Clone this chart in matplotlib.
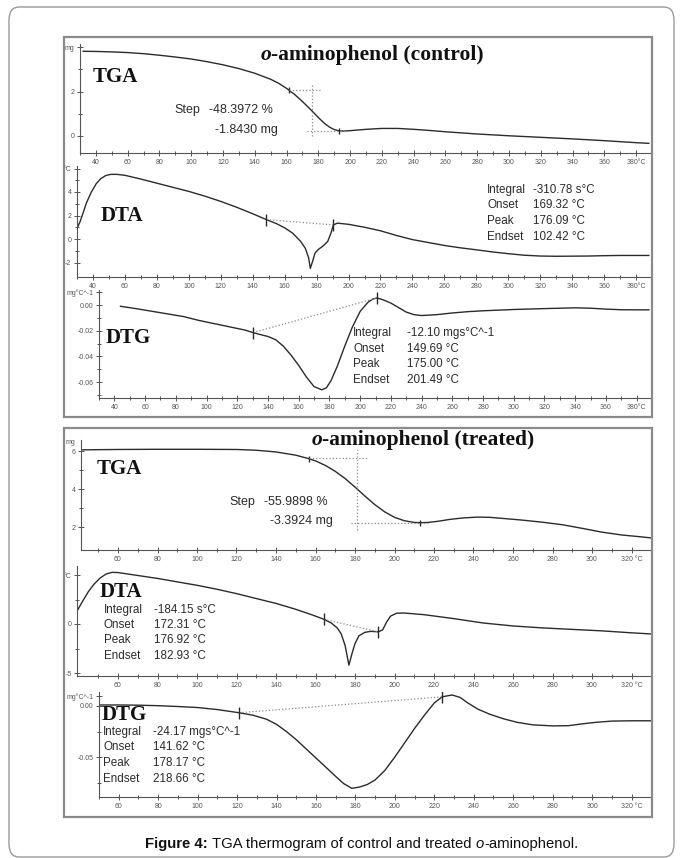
import numpy as np
import matplotlib
matplotlib.use("Agg")
import matplotlib.pyplot as plt
from matplotlib.patches import Rectangle, FancyBboxPatch

# ---------------------------------------------------------------
# o-aminophenol, control sample
# ---------------------------------------------------------------
ctl_tga_T = [32, 40, 50, 60, 70, 80, 90, 100, 110, 120, 130, 140, 150, 155, 160,
             165, 170, 175, 178, 181, 184, 187, 190, 193, 196, 200, 210, 220, 230,
             240, 250, 260, 280, 300, 320, 340, 360, 380, 388]
ctl_tga_mg = [3.808, 3.80, 3.78, 3.75, 3.70, 3.63, 3.55, 3.46, 3.34, 3.20, 3.03, 2.82,
              2.55, 2.37, 2.14, 1.87, 1.55, 1.20, 0.98, 0.76, 0.56, 0.40, 0.29, 0.23,
              0.22, 0.24, 0.30, 0.34, 0.34, 0.30, 0.25, 0.19, 0.09, 0.01, -0.06, -0.13,
              -0.21, -0.30, -0.33]
ctl_step_mg = 1.8430
ctl_step_pct = 48.3972
ctl_step_top = 2.07
ctl_step_T = [161.6, 176.0, 193.0]   # upper limit, inflection, lower limit

ctl_dta_T = [30, 32, 34, 36, 39, 42, 45, 48, 51, 55, 60, 70, 80, 90, 100, 110, 120,
             130, 140, 148.6, 155, 160, 165, 170, 173, 175, 176.09, 177.5, 179, 181,
             184, 187, 189, 190.5, 193, 200, 210, 220, 230, 240, 250, 260, 270, 280,
             290, 300, 310, 320, 330, 340, 350, 360, 370, 380, 388]
ctl_dta_val = [0.9, 1.5, 2.3, 3.1, 4.0, 4.7, 5.15, 5.4, 5.5, 5.5, 5.42, 5.1, 4.75, 4.4,
               4.05, 3.65, 3.2, 2.7, 2.15, 1.65, 1.3, 0.95, 0.5, -0.2, -0.8, -1.6, -2.5,
               -1.9, -1.2, -0.9, -0.6, -0.2, 0.5, 1.2, 1.35, 1.25, 1.0, 0.7, 0.3, -0.05,
               -0.3, -0.55, -0.75, -0.92, -1.1, -1.25, -1.38, -1.45, -1.47, -1.46, -1.45,
               -1.42, -1.40, -1.40, -1.40]
ctl_dta_lim = [148.6, 190.5]
ctl_dta_info = [("Integral", "-310.78 s°C"), ("Onset", "169.32 °C"),
                ("Peak", "176.09 °C"), ("Endset", "102.42 °C")]

ctl_dtg_T = [44, 55, 65, 75, 85, 95, 105, 115, 125, 130.3, 135, 140, 145, 150, 155, 160,
             165, 170, 175, 178, 181, 185, 190, 195, 200, 205, 208, 211, 215, 220, 225,
             230, 235, 240, 250, 260, 270, 280, 300, 320, 340, 350, 360, 370, 388]
ctl_dtg_val = [-0.001, -0.003, -0.005, -0.007, -0.009, -0.012, -0.0145, -0.017, -0.0195,
               -0.0215, -0.023, -0.0245, -0.027, -0.032, -0.039, -0.047, -0.056, -0.0635,
               -0.066, -0.0645, -0.059, -0.048, -0.032, -0.017, -0.005, 0.002, 0.0045,
               0.0055, 0.004, 0.0015, -0.002, -0.0055, -0.0075, -0.0082, -0.0075,
               -0.0062, -0.0052, -0.0045, -0.0035, -0.0028, -0.0022, -0.0025, -0.0032,
               -0.0037, -0.0038]
ctl_dtg_lim = [130.3, 211.0]
ctl_dtg_info = [("Integral", "-12.10 mgs°C^-1"), ("Onset", "149.69 °C"),
                ("Peak", "175.00 °C"), ("Endset", "201.49 °C")]

# ---------------------------------------------------------------
# o-aminophenol, treated sample
# ---------------------------------------------------------------
trt_tga_T = [41.3, 50, 60, 80, 100, 120, 130, 140, 150, 156.5, 160, 165, 170, 175, 180,
             185, 190, 195, 200, 205, 210, 213, 217, 222, 228, 235, 242, 248, 255, 265,
             275, 285, 295, 305, 315, 325, 330.4]
trt_tga_mg = [6.059, 6.07, 6.08, 6.09, 6.09, 6.08, 6.04, 5.95, 5.78, 5.60, 5.48, 5.24,
              4.93, 4.55, 4.10, 3.63, 3.18, 2.80, 2.51, 2.33, 2.24, 2.228, 2.24, 2.30,
              2.40, 2.48, 2.52, 2.51, 2.45, 2.36, 2.25, 2.12, 1.93, 1.73, 1.58, 1.48, 1.42]
trt_step_mg = 3.3924
trt_step_pct = 55.9898
trt_step_top = 5.62
trt_step_T = [156.5, 181.0, 213.0]

trt_dta_T = [39.2, 42, 45, 48, 51, 54, 57, 60, 70, 80, 90, 100, 110, 120, 130, 140, 150,
             158, 164.3, 168, 171, 173, 175, 176.92, 178.5, 180, 182, 185, 188, 191.8,
             194, 196, 198, 201, 205, 215, 230, 245, 260, 275, 290, 305, 320, 330.4]
trt_dta_val = [1.3, 2.3, 3.3, 4.1, 4.7, 5.1, 5.27, 5.25, 4.95, 4.65, 4.3, 3.95, 3.55, 3.1,
               2.6, 2.1, 1.5, 0.95, 0.48, 0.1, -0.4, -1.0, -2.2, -4.2, -3.0, -2.0, -1.2,
               -0.85, -0.75, -0.8, -0.6, 0.2, 0.8, 1.1, 1.12, 0.95, 0.55, 0.1, -0.2, -0.4,
               -0.55, -0.7, -0.9, -1.02]
trt_dta_lim = [164.3, 191.8]
trt_dta_info = [("Integral", "-184.15 s°C"), ("Onset", "172.31 °C"),
                ("Peak", "176.92 °C"), ("Endset", "182.93 °C")]

trt_dtg_T = [50.4, 60, 70, 80, 90, 100, 110, 121, 128, 135, 140, 145, 150, 155, 160, 165,
             170, 174, 178.17, 182, 186, 190, 195, 200, 205, 210, 215, 220, 224, 229, 233,
             237, 242, 248, 255, 262, 270, 280, 288, 295, 302, 310, 320, 330.4]
trt_dtg_val = [0.001, 0.001, 0.0008, 0.0003, -0.0005, -0.0015, -0.0035, -0.0066, -0.009,
               -0.013, -0.018, -0.025, -0.033, -0.042, -0.051, -0.06, -0.069, -0.076,
               -0.0807, -0.0795, -0.077, -0.0725, -0.063, -0.05, -0.036, -0.022, -0.009,
               0.003, 0.009, 0.0108, 0.0085, 0.003, -0.003, -0.008, -0.0125, -0.016,
               -0.0185, -0.0195, -0.0193, -0.0175, -0.016, -0.0148, -0.0145, -0.0145]
trt_dtg_lim = [121.0, 224.0]
trt_dtg_info = [("Integral", "-24.17 mgs°C^-1"), ("Onset", "141.62 °C"),
                ("Peak", "178.17 °C"), ("Endset", "218.66 °C")]

# ---------------------------------------------------------------
W, H = 683, 858
fig = plt.figure(figsize=(W / 100, H / 100), dpi=100)
fig.patch.set_facecolor("white")

SANS = "Liberation Sans"
SERIF = "Liberation Serif"
INK = "#2b2b2b"


def fx(x):
    return x / W


def fy(y):
    return 1 - y / H


def px_axes(l, t, r, b):
    return fig.add_axes([l / W, 1 - b / H, (r - l) / W, (b - t) / H])


def temp_scale(px, t0, px0, k):
    return t0 + (px - px0) / k


def style(ax, xlim, ylim, xt, xl, xminor, yt, yl, yminor):
    ax.set_xlim(xlim)
    ax.set_ylim(ylim)
    ax.patch.set_alpha(0)
    for s in ["top", "right"]:
        ax.spines[s].set_visible(False)
    for s in ["left", "bottom"]:
        ax.spines[s].set_color("#555555")
        ax.spines[s].set_linewidth(0.8)
    ax.set_xticks(xt)
    ax.set_xticklabels(xl)
    ax.set_xticks(xminor, minor=True)
    ax.set_yticks(yt)
    ax.set_yticklabels(yl)
    ax.set_yticks(yminor, minor=True)
    ax.tick_params(which="both", direction="inout", labelsize=5, colors="#555555",
                   pad=2, width=0.7)
    ax.tick_params(which="major", length=4)
    ax.tick_params(which="minor", length=2.5)
    for lab in ax.get_xticklabels() + ax.get_yticklabels():
        lab.set_family(SANS)


def curve(ax, T, v, lims):
    ax.plot(T, v, color=INK, lw=1.0)
    ym = np.interp(lims, T, v)
    ax.plot(lims, ym, ls=":", color="#8c8c8c", lw=0.9)
    ax.plot(lims, ym, ls="none", marker="|", ms=8, mew=1.0, color=INK)


def step_marks(ax, T, v, tpts, top, drop):
    low = top - drop
    t1, tm, t2 = tpts
    ax.plot(T, v, color=INK, lw=1.0)
    ax.plot([t1, t2], np.interp([t1, t2], T, v), ls="none", marker="|", ms=5,
            mew=1.0, color=INK)
    ax.plot([t1, tm + 5], [top, top], ls=":", color="#8c8c8c", lw=0.9)
    ax.plot([tm - 3, t2 + 4], [low, low], ls=":", color="#8c8c8c", lw=0.9)
    ax.plot([tm, tm], [low - 0.12 * drop, top + 0.12 * drop], ls=":", color="#8c8c8c",
            lw=0.9)


def info(xl, xv, ys, rows, size=8.4):
    for y, (lab, val) in zip(ys, rows):
        fig.text(fx(xl), fy(y), lab, fontsize=size, family=SANS, color=INK, va="center")
        fig.text(fx(xv), fy(y), val, fontsize=size, family=SANS, color=INK, va="center")


def rich(x, y, pieces, size, family):
    r = fig.canvas.get_renderer()
    gap = 0.278 * size * 100 / 72
    arts = []
    for s, kw, sp in pieces:
        arts.append((fig.text(0, fy(y), s, fontsize=size, family=family, color="#111111",
                              va="center", **kw), sp))
    widths = [a.get_window_extent(r).width + (gap if sp else 0) for a, sp in arts]
    x0 = x - sum(widths) / 2
    for (a, sp), w in zip(arts, widths):
        a.set_x(fx(x0))
        x0 += w


def label(x, y, s):
    fig.text(fx(x), fy(y), s, fontsize=15, family=SERIF, weight="bold", color="#111111",
             va="center")


# outer rounded frame and the two chart frames
fig.patches.append(FancyBboxPatch((fx(9), fy(857)), fx(665), 850 / H,
                                  boxstyle="round,pad=0,rounding_size=0.015",
                                  transform=fig.transFigure, fill=False,
                                  ec="#9a9a9a", lw=1.0))
for top, bot in [(37, 417), (428, 817)]:
    fig.patches.append(Rectangle((fx(64), fy(bot)), fx(652 - 64), (bot - top) / H,
                                 transform=fig.transFigure, fill=False,
                                 ec="#8a8a8a", lw=1.6))

# ---- control ----
cx = lambda px: temp_scale(px, 40, 93, 1.612)
c_xt = list(range(40, 381, 20))
c_xl = [str(t) for t in c_xt[:-1]] + ["380°C"]
c_xm = list(range(30, 391, 20))

ax = px_axes(80, 44, 652, 153)
style(ax, (cx(80), cx(652)), ((136 - 153) / 22.25, (136 - 44) / 22.25),
      c_xt, c_xl, c_xm, [0, 2, 4], ["0", "2", "mg"], [1, 3])
step_marks(ax, ctl_tga_T, ctl_tga_mg, ctl_step_T, ctl_step_top, ctl_step_mg)

ax = px_axes(77, 166, 652, 277)
style(ax, (cx(77), cx(652)), ((239 - 277) / 11.75, (239 - 166) / 11.75),
      c_xt, c_xl, c_xm, [-2, 0, 2, 4, 6], ["-2", "0", "2", "4", "°C"], [-1, 1, 3, 5])
curve(ax, ctl_dta_T, ctl_dta_val, ctl_dta_lim)

ax = px_axes(99, 290, 652, 398)
style(ax, (cx(99), cx(652)), ((305 - 398) / 1285, (305 - 290) / 1285),
      c_xt, c_xl, c_xm, [-0.06, -0.04, -0.02, 0, 0.01],
      ["-0.06", "-0.04", "-0.02", "0.00", "mg°C^-1"], [-0.07, -0.05, -0.03, -0.01])
curve(ax, ctl_dtg_T, ctl_dtg_val, ctl_dtg_lim)

rich(372, 55, [("o", dict(weight="bold", style="italic"), False),
               ("-aminophenol (control)", dict(weight="bold"), False)], 15.5, SERIF)
label(93, 77, "TGA")
fig.text(fx(174), fy(110), "Step", fontsize=9, family=SANS, color=INK, va="center")
fig.text(fx(209), fy(110), f"-{ctl_step_pct:.4f} %", fontsize=9, family=SANS,
         color=INK, va="center")
fig.text(fx(215), fy(130), f"-{ctl_step_mg:.4f} mg", fontsize=9, family=SANS,
         color=INK, va="center")
label(101, 216, "DTA")
info(487, 533, [190, 205.5, 221, 237], ctl_dta_info)
label(106, 338, "DTG")
info(353, 407, [333, 349, 364.5, 380], ctl_dtg_info)

# ---- treated ----
tx = lambda px: temp_scale(px, 60, 118, 1.975)
t_xt = list(range(60, 321, 20))
t_xl = [str(t) for t in t_xt[:-1]] + ["320 °C"]
t_xm = list(range(50, 331, 20))

ax = px_axes(81, 440, 652, 550)
style(ax, (tx(81), tx(652)), ((565 - 550) / 19, (565 - 440) / 19),
      t_xt, t_xl, t_xm, [2, 4, 6], ["2", "4", "6"], [3, 5])
step_marks(ax, trt_tga_T, trt_tga_mg, trt_step_T, trt_step_top, trt_step_mg)
fig.text(fx(75), fy(443), "mg", fontsize=5, family=SANS, color="#555555",
         ha="right", va="center")

ax = px_axes(77, 566, 652, 676)
style(ax, (tx(77), tx(652)), ((624 - 676) / 9.8, (624 - 566) / 9.8),
      t_xt, t_xl, t_xm, [-5, 0, 5], ["-5", "0", "°C"], [-2.5, 2.5])
curve(ax, trt_dta_T, trt_dta_val, trt_dta_lim)

ax = px_axes(99, 692, 652, 797)
style(ax, (tx(99), tx(652)), ((706 - 797) / 1020, (706 - 692) / 1020),
      t_xt, t_xl, t_xm, [-0.05, 0, 0.01], ["-0.05", "0.00", "mg°C^-1"],
      [-0.075, -0.025])
curve(ax, trt_dtg_T, trt_dtg_val, trt_dtg_lim)

rich(423, 440, [("o", dict(weight="bold", style="italic"), False),
                ("-aminophenol (treated)", dict(weight="bold"), False)], 15.5, SERIF)
label(97, 469, "TGA")
fig.text(fx(229), fy(502), "Step", fontsize=9, family=SANS, color=INK, va="center")
fig.text(fx(264), fy(502), f"-{trt_step_pct:.4f} %", fontsize=9, family=SANS,
         color=INK, va="center")
fig.text(fx(270), fy(521), f"-{trt_step_mg:.4f} mg", fontsize=9, family=SANS,
         color=INK, va="center")
label(100, 592, "DTA")
info(104, 154, [610, 625, 640, 656], trt_dta_info)
label(102, 715, "DTG")
info(103, 153, [732, 747.5, 763, 779], trt_dtg_info)

# caption
rich(362, 844, [("Figure 4:", dict(weight="bold"), True),
                ("TGA thermogram of control and treated", {}, True),
                ("o", dict(style="italic"), False),
                ("-aminophenol.", {}, False)], 10.7, SANS)

fig.savefig("out.png", dpi=100)
